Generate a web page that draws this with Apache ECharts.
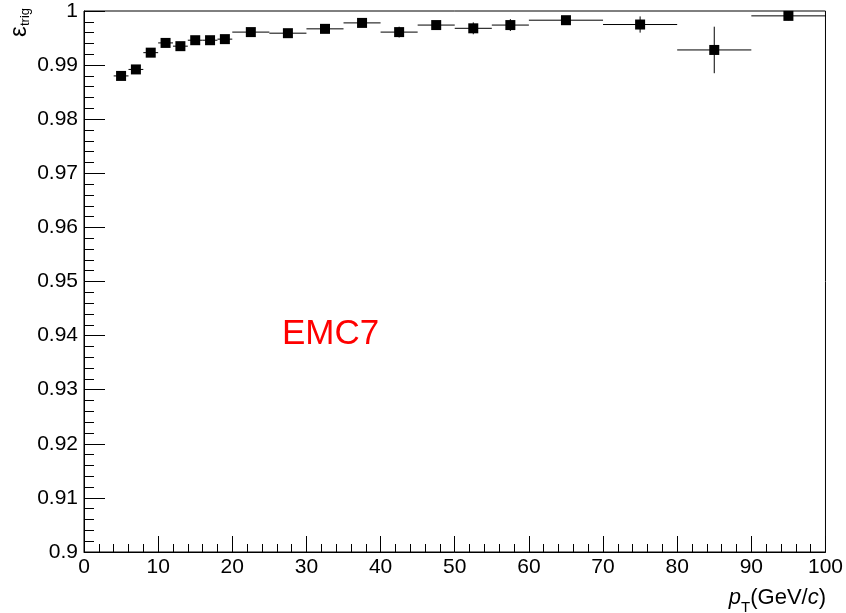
<!DOCTYPE html>
<html>
<head>
<meta charset="utf-8">
<script src="https://cdn.jsdelivr.net/npm/echarts@6/dist/echarts.min.js"></script>
<style>
html, body { margin: 0; padding: 0; background: #fff; }
#chart { width: 846px; height: 613px; }
</style>
</head>
<body>
<div id="chart"></div>
<script>
// bin edges in pT (GeV/c), one more than the values
var binEdges = [4, 6, 8, 10, 12, 14, 16, 18, 20, 25, 30, 35, 40, 45, 50, 55, 60, 70, 80, 90, 100]
// trigger efficiency per bin
var effValues = [0.9880, 0.9892, 0.9923, 0.9941, 0.9935, 0.9946, 0.9946, 0.9948, 0.9961, 0.9959,
                 0.9967, 0.9978, 0.9961, 0.9974, 0.9968, 0.9974, 0.9983, 0.9975, 0.9928, 0.9991]
var effErrors = [0.0004, 0.0004, 0.0004, 0.0004, 0.0004, 0.0004, 0.0004, 0.0004, 0.0004, 0.0004,
                 0.0006, 0.0005, 0.0010, 0.0006, 0.0011, 0.0011, 0.0006, 0.0015, 0.0043, 0.0008]

var points = []
for (var i = 0; i < effValues.length; i++) {
    points.push([binEdges[i], binEdges[i + 1], effValues[i], effErrors[i]])
}

var font = '"Liberation Sans", Arial, Helvetica, sans-serif'
var ctx = document.createElement('canvas').getContext('2d')
function textWidth(txt, f) {
    ctx.font = f
    return ctx.measureText(txt).width
}

// x axis title: p_T(GeV/c), laid out piece by piece, right aligned to the frame
var titleParts = [
    { t: 'p', f: 'italic 22px ' + font, dy: 0 },
    { t: 'T', f: '15px ' + font, dy: 13 },
    { t: '(GeV/', f: '22px ' + font, dy: 0 },
    { t: 'c', f: 'italic 22px ' + font, dy: 0 },
    { t: ')', f: '22px ' + font, dy: 0 }
]
var total = 0
titleParts.forEach(function (p) { p.w = textWidth(p.t, p.f); total += p.w })
var cx = 826 - total
var titleChildren = []
titleParts.forEach(function (p) {
    titleChildren.push({ type: 'text', x: cx, y: p.dy, style: { text: p.t, fill: '#000', font: p.f, verticalAlign: 'top' } })
    cx += p.w
})

var myChart = echarts.init(document.getElementById('chart'))

var options = {
    animation: false,
    backgroundColor: '#fff',
    grid: {
        left: 84,
        right: 20,
        top: 11,
        bottom: 61,
        show: true,
        borderColor: '#000',
        borderWidth: 1
    },
    xAxis: {
        type: 'value',
        min: 0,
        max: 100,
        interval: 10,
        axisLine: { lineStyle: { color: '#000', width: 1 } },
        axisTick: { inside: true, length: 16, lineStyle: { color: '#000' } },
        minorTick: { show: true, splitNumber: 5, length: 8, lineStyle: { color: '#000' } },
        splitLine: { show: false },
        axisLabel: { color: '#000', fontSize: 21, fontFamily: font, margin: 5 }
    },
    yAxis: {
        type: 'value',
        min: 0.9,
        max: 1,
        interval: 0.01,
        axisLine: { lineStyle: { color: '#000', width: 1 } },
        axisTick: { inside: true, length: 21, lineStyle: { color: '#000' } },
        minorTick: { show: true, splitNumber: 5, length: 10, lineStyle: { color: '#000' } },
        splitLine: { show: false },
        axisLabel: {
            color: '#000',
            fontSize: 21,
            fontFamily: font,
            margin: 6,
            padding: [3, 0, 0, 0],
            formatter: function (v) { return String(parseFloat(v.toFixed(2))) }
        }
    },
    series: [
        {
            type: 'custom',
            data: points,
            encode: { x: [0, 1], y: 2 },
            renderItem: function (params, api) {
                var lo = api.value(0)
                var hi = api.value(1)
                var y = api.value(2)
                var err = api.value(3)
                var pLo = api.coord([lo, y])
                var pHi = api.coord([hi, y])
                var pc = api.coord([(lo + hi) / 2, y])
                var pUp = api.coord([(lo + hi) / 2, y + err])
                var pDn = api.coord([(lo + hi) / 2, y - err])
                var ls = { stroke: '#000', lineWidth: 1 }
                var s = 10
                return {
                    type: 'group',
                    children: [
                        { type: 'line', shape: { x1: pLo[0], y1: pLo[1], x2: pHi[0], y2: pHi[1] }, style: ls },
                        { type: 'line', shape: { x1: pUp[0], y1: pUp[1], x2: pDn[0], y2: pDn[1] }, style: ls },
                        { type: 'rect', shape: { x: pc[0] - s / 2, y: pc[1] - s / 2, width: s, height: s }, style: { fill: '#000' } }
                    ]
                }
            }
        }
    ],
    graphic: [
        {
            type: 'text',
            left: 282,
            top: 317,
            style: { text: 'EMC7', fill: '#ff0000', font: '35px ' + font }
        },
        {
            // y axis title, rotated
            type: 'group',
            x: 7,
            y: 37,
            rotation: Math.PI / 2,
            children: [
                { type: 'text', x: 0, y: 0, style: { text: 'ε', fill: '#000', font: '24px ' + font, verticalAlign: 'top' } },
                { type: 'text', x: 11, y: 12, style: { text: 'trig', fill: '#000', font: '13px ' + font, verticalAlign: 'top' } }
            ]
        },
        {
            type: 'group',
            x: 0,
            y: 587,
            children: titleChildren
        }
    ]
}
myChart.setOption(options)
</script>
</body>
</html>
